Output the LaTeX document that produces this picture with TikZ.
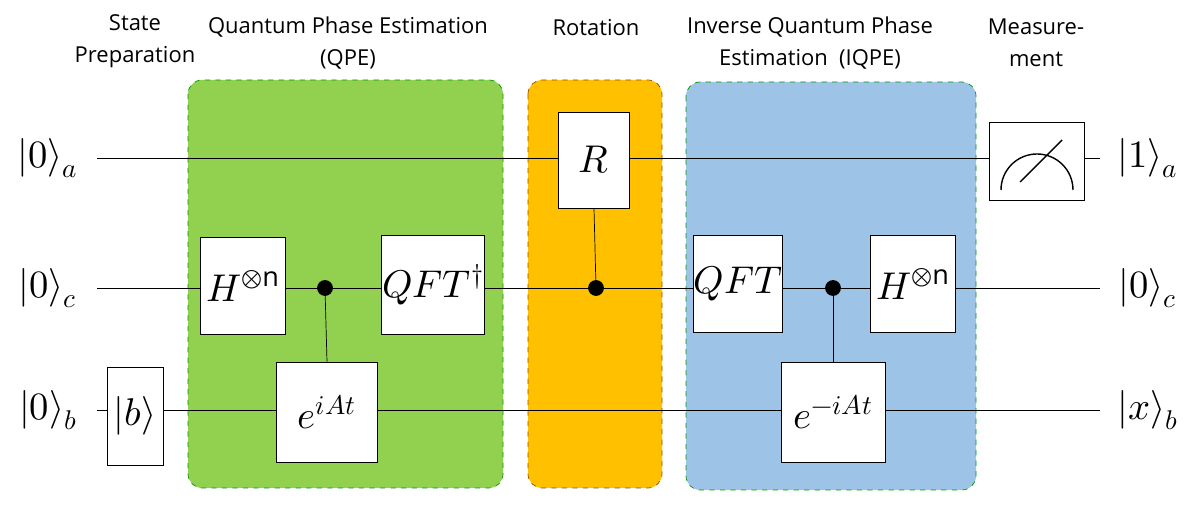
\documentclass[tikz,border=0pt]{standalone}
\usepackage{amsmath}
\usepackage{fontspec}
\setmainfont{Open Sans}
\usepackage{unicode-math}
\setmathfont{Latin Modern Math}
\usetikzlibrary{positioning}

\begin{document}
\begin{tikzpicture}[x=0.02cm,y=-0.02cm,
            gate/.style={draw, fill=white, inner sep=0pt, font=\fontsize{22}{24}\selectfont}, % gate boxes
            stage/.style={rounded corners=8pt, dashed, draw=#1!60!black}, % background stages
            title/.style={align=center, font=\fontsize{12.5}{18}\selectfont},
            ket/.style={font=\fontsize{22}{24}\selectfont},
            ctrl/.style={circle, fill=black, inner sep=0pt, minimum size=9pt}
            ]
    \useasboundingbox (0,0) rectangle (1200,516);

    % stages
    \draw[stage=green, fill={rgb,255:red,146;green,208;blue,80}] (188,80) rectangle (503,488);
    \draw[stage=orange, fill={rgb,255:red,255;green,192;blue,0}] (528,80) rectangle (662,488);
    \draw[stage=green, fill={rgb,255:red,157;green,195;blue,230}] (686,82) rectangle (976,490);

    % titles
    \node[title] at (135,41) {State\\Preparation};
    \node[title] at (348,43) {Quantum Phase Estimation\\(QPE)};
    \node[title] at (596,28) {Rotation};
    \node[title] at (810,43) {Inverse Quantum Phase\\Estimation\ \ (IQPE)};
    \node[title] at (1036,43) {Measure-\\ment};

    % register labels
    \node[ket] (ina) at (48,158) {$|0\rangle_{a}$};
    \node[ket] (inc) at (48,288) {$|0\rangle_{c}$};
    \node[ket] (inb) at (48,410) {$|0\rangle_{b}$};
    \node[ket] (outa) at (1148,158) {$|1\rangle_{a}$};
    \node[ket] (outc) at (1148,288) {$|0\rangle_{c}$};
    \node[ket] (outb) at (1148,410) {$|x\rangle_{b}$};

    % wires
    \draw (97,158) coordinate (wa) -- (1100,158) coordinate (ea);
    \draw (97,288) coordinate (wc) -- (1100,288) coordinate (ec);
    \draw (97,410) coordinate (wb) -- (1100,410) coordinate (eb);

    % gates
    \node[gate, minimum width=56*0.02cm, minimum height=98*0.02cm] (b) at (135,416) {$|b\rangle$};
    \node[gate, minimum width=85*0.02cm, minimum height=97*0.02cm] (h1) at (243,286) {$H^{\otimes\mathrm{n}}$};
    \node[gate, minimum width=101*0.02cm, minimum height=100*0.02cm] (u1) at (327,412) {$e^{iAt}$};
    \node[gate, minimum width=103*0.02cm, minimum height=99*0.02cm] (qi) at (433,285) {$QFT^{\dagger}$};
    \node[gate, minimum width=71*0.02cm, minimum height=96*0.02cm] (r) at (594,160) {$R$};
    \node[gate, minimum width=82*0.02cm, minimum height=97*0.02cm] (q) at (738,284) {$QFT$};
    \node[gate, minimum width=85*0.02cm, minimum height=97*0.02cm] (h2) at (913,284) {$H^{\otimes\mathrm{n}}$};
    \node[gate, minimum width=104*0.02cm, minimum height=100*0.02cm] (u2) at (833,412) {$e^{-iAt}$};
    \node[gate, minimum width=95*0.02cm, minimum height=78*0.02cm] (m) at (1037,161) {};

    % controls
    \node[ctrl] (c1) at (325,288) {};
    \node[ctrl] (c2) at (596,288) {};
    \node[ctrl] (c3) at (833,288) {};
    \draw (c1) -- (u1.north);
    \draw (c2) -- (r.south);
    \draw (c3) -- (u2.north);

    % meter
    \draw[thick] (1001,190) arc (180:360:36);
    \draw[thick] (1020,182) -- (1062,140);
\end{tikzpicture}
\end{document}
